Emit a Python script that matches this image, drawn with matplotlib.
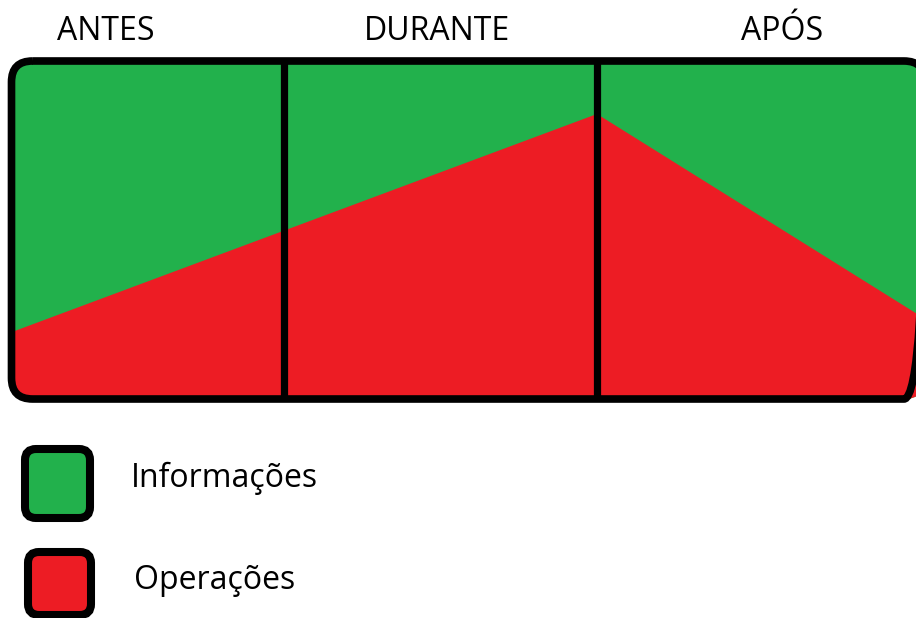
import matplotlib
matplotlib.use("Agg")
import matplotlib.pyplot as plt
from matplotlib.patches import FancyBboxPatch, Polygon

# Phases of the timeline and where each section ends (pixel units of the sketch)
phases = ["ANTES", "DURANTE", "APÓS"]
phase_label_x = [105.5, 437, 782.5]
dividers_x = [283.5, 596.5]

# Red/green boundary (share of "Operações" rising then falling)
boundary_x = [12, 597, 930]
boundary_y = [332, 114, 322]

# Main box (centre line of the border) - right edge runs off the picture
box_left, box_right, box_top, box_bottom = 11.5, 925, 61, 399

legend_labels = ["Informações", "Operações"]
legend_colors = ["#22B14C", "#ED1C24"]
legend_boxes = [(25, 449, 65, 69), (28, 552, 63, 63)]   # x, y, w, h
legend_text_pos = [(131, 487), (134, 589)]

GREEN = "#22B14C"
RED = "#ED1C24"

fig = plt.figure(figsize=(9.16, 6.18), dpi=100)
ax = fig.add_axes([0, 0, 1, 1])
ax.set_xlim(0, 916)
ax.set_ylim(618, 0)
ax.axis("off")

#--- green background in the rounded box
box = FancyBboxPatch((box_left, box_top), box_right - box_left, box_bottom - box_top,
                     boxstyle="round,pad=0,rounding_size=21",
                     facecolor=GREEN, edgecolor="none", zorder=1)
ax.add_patch(box)

# red area under the boundary, clipped to the box
pts = list(zip(boundary_x, boundary_y)) + [(boundary_x[-1], box_bottom + 10), (boundary_x[0], box_bottom + 10)]
red = Polygon(pts, closed=True, facecolor=RED, edgecolor="none", zorder=2)
ax.add_patch(red)
red.set_clip_path(box)

# vertical dividers between phases
for x in dividers_x:
    ax.plot([x, x], [box_top, box_bottom], color="black", lw=5.2, solid_capstyle="butt", zorder=3)

# border on top
border = FancyBboxPatch((box_left, box_top), box_right - box_left, box_bottom - box_top,
                        boxstyle="round,pad=0,rounding_size=21",
                        facecolor="none", edgecolor="black", lw=5.5, zorder=4)
ax.add_patch(border)

# phase labels
for name, x in zip(phases, phase_label_x):
    ax.text(x, 40, name, ha="center", va="baseline", fontsize=23, family="Open Sans", color="black")

#--- legend
for (x, y, w, h), c, lab, (tx, ty) in zip(legend_boxes, legend_colors, legend_labels, legend_text_pos):
    sq = FancyBboxPatch((x, y), w, h, boxstyle="round,pad=0,rounding_size=11",
                        facecolor=c, edgecolor="black", lw=5.8, zorder=4)
    ax.add_patch(sq)
    ax.text(tx, ty, lab, ha="left", va="baseline", fontsize=23, family="Open Sans", color="black")

fig.savefig("out.png", dpi=100)
plt.close()
